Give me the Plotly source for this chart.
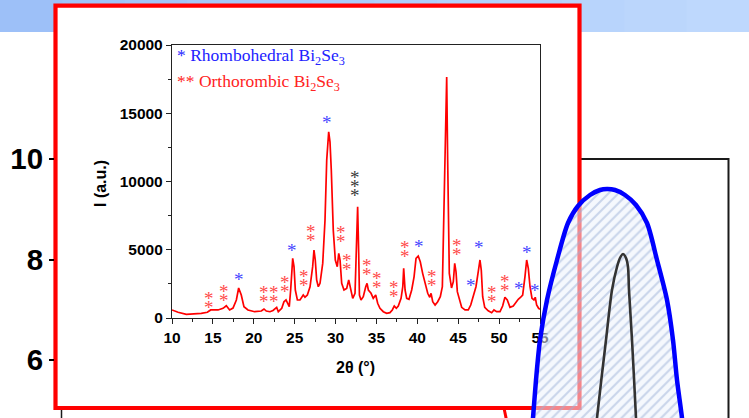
import plotly.graph_objects as go

W, H = 749, 418

# ---------------- inset XRD data (2theta in degrees, intensity in a.u.) -------------
two_theta = [10.00, 10.74, 11.75, 12.77, 13.58, 14.32, 14.73, 15.63, 16.24, 16.64,
             17.05, 17.46, 17.87, 18.15, 18.47, 18.80, 19.29, 20.11, 20.92, 21.25,
             21.53, 21.98, 22.35, 22.80, 23.00, 23.42, 23.69, 23.94, 24.10, 24.34,
             24.51, 24.76, 24.92, 25.08, 25.33, 25.65, 26.05, 26.26, 26.55, 26.88,
             27.20, 27.36, 27.52, 27.69, 27.89, 28.10, 28.43, 28.71, 28.92, 29.16,
             29.32, 29.48, 29.72, 29.97, 30.21, 30.39, 30.55, 30.75, 31.03, 31.36,
             31.61, 31.85, 32.10, 32.38, 32.59, 32.70, 32.83, 32.92, 33.11, 33.39,
             33.69, 33.85, 34.01, 34.34, 34.61, 34.91, 35.15, 35.43, 35.84, 36.25,
             36.65, 36.94, 37.18, 37.43, 37.67, 38.01, 38.22, 38.33, 38.50, 38.70,
             38.98, 39.31, 39.60, 39.84, 40.11, 40.36, 40.65, 40.94, 41.27, 41.52,
             41.68, 41.88, 42.17, 42.49, 42.81, 43.06, 43.30, 43.47, 43.59, 43.71,
             43.91, 44.18, 44.40, 44.57, 44.73, 44.89, 45.14, 45.42, 45.83, 46.23,
             46.53, 46.85, 47.17, 47.45, 47.66, 47.82, 47.99, 48.24, 48.67, 49.09,
             49.37, 49.70, 50.11, 50.43, 50.71, 51.00, 51.33, 51.73, 52.06, 52.34,
             52.64, 52.88, 53.16, 53.37, 53.57, 53.78, 54.02, 54.26, 54.42, 54.59,
             54.83, 55.00]
intensity = [590, 420, 270, 290, 340, 420, 590, 590, 710, 900,
             590, 730, 1320, 2200, 1680, 830, 590, 460, 510, 660,
             510, 460, 550, 780, 460, 710, 1190, 1320, 1080, 830,
             2050, 4370, 3760, 2050, 1320, 1320, 1680, 1520, 1680, 2290,
             3760, 4980, 4250, 2780, 2290, 2540, 4000, 7170, 11570, 13640,
             12910, 10830, 6440, 4250, 3760, 4740, 4250, 2540, 2050, 2170,
             2780, 2170, 1440, 1810, 5220, 8150, 4740, 1680, 1320, 1560,
             2290, 2540, 2050, 1810, 1440, 1680, 1080, 710, 460, 340,
             390, 590, 880, 710, 880, 1440, 2290, 3640, 2050, 1440,
             1370, 2050, 3020, 4370, 4540, 4120, 3270, 2540, 1810, 1520,
             1810, 1190, 950, 1190, 1560, 2290, 9130, 16450, 17660, 11570,
             3270, 2200, 2660, 4000, 3390, 1930, 1320, 780, 590, 590,
             950, 1680, 2290, 3390, 4250, 3510, 1560, 780, 530, 390,
             590, 460, 460, 880, 1520, 1320, 780, 880, 1190, 1370,
             1520, 1680, 3020, 4250, 3640, 2290, 1440, 1320, 1520, 950,
             710, 640]

x_tick_vals = [10, 15, 20, 25, 30, 35, 40, 45, 50, 55]
y_tick_vals = [0, 5000, 10000, 15000, 20000]

# peak markers: position, intensity of lowest asterisk, phase
mark_2theta = [14.56, 16.36, 18.23, 21.29, 22.47, 23.78, 24.67, 26.18, 27.03, 28.99,
               30.63, 31.36, 32.41, 33.81, 35.10, 37.15, 38.49, 40.24, 41.76, 44.81,
               46.52, 47.54, 49.17, 50.72, 52.47, 53.37, 54.39]
mark_I = [1080, 1610, 3150, 1490, 1490, 2220, 5220, 2660, 6000, 14620,
          5910, 3810, 9250, 3460, 2540, 1900, 4810, 5510, 2660, 4980,
          2660, 5470, 1490, 2340, 2420, 5100, 2290]
mark_phase = ["O", "O", "R", "O", "O", "O", "R", "O", "O", "R",
              "O", "O", "X", "O", "O", "O", "O", "R", "O", "O",
              "R", "R", "O", "O", "R", "R", "R"]
phase_count = {"R": 1, "O": 2, "X": 3}
phase_color = {"R": "#4545ff", "O": "#ff4a4a", "X": "#3a3a3a"}

# background (host slide) chart
bg_tick_vals = [6, 8, 10]
bg_range = [4.85, 13.16]
# outline of the hatched blue envelope and inner grey curve (slide pixel coords)
env_x = [531, 533, 536, 540, 547, 557, 568, 578, 590, 600, 607, 615, 625, 636, 647,
         657, 667, 673, 677, 682, 684, 531]
env_y = [440, 418, 380, 340, 300, 260, 223, 206, 195, 190, 189, 190, 195, 205, 223,
         260, 300, 340, 380, 418, 440, 440]
inner_x = [595, 597, 606, 612, 617, 620, 623, 626, 628, 629, 632, 636, 637]
inner_y = [440, 418, 340, 290, 267, 258, 254, 258, 267, 290, 340, 418, 440]


def px(x):
    return x / W


def py(y):
    return 1 - y / H


fig = go.Figure()

fig.add_trace(go.Scatter(x=[0], y=[8], mode="markers", marker=dict(opacity=0),
                         hoverinfo="skip", showlegend=False, xaxis="x", yaxis="y"))

fig.add_trace(go.Scatter(x=two_theta, y=intensity, mode="lines",
                         line=dict(color="#ff0000", width=1.7),
                         showlegend=False, xaxis="x2", yaxis="y2"))

fig.add_trace(go.Scatter(x=env_x, y=env_y, mode="lines", fill="toself",
                         line=dict(color="#0000ff", width=4.5, shape="spline", smoothing=0.8),
                         fillcolor="rgba(0,0,0,0)",
                         fillpattern=dict(shape="/", fgcolor="#9db1d8",
                                          bgcolor="rgba(236,241,250,0.55)",
                                          size=7, solidity=0.3),
                         showlegend=False, xaxis="x3", yaxis="y3"))
fig.add_trace(go.Scatter(x=inner_x, y=inner_y, mode="lines",
                         line=dict(color="#333333", width=2.6, shape="spline", smoothing=0.8),
                         showlegend=False, xaxis="x3", yaxis="y3"))

shapes = []
band_cols = [(157, 192, 248), (160, 195, 248), (163, 197, 249), (166, 200, 249),
             (169, 202, 250), (172, 204, 250), (175, 206, 251), (178, 208, 251),
             (181, 210, 252), (184, 212, 252), (187, 214, 252), (190, 216, 253)]
n = len(band_cols)
for i, c in enumerate(band_cols):
    shapes.append(dict(type="rect", xref="paper", yref="paper", layer="below",
                       x0=i / n, x1=(i + 1) / n + 0.002, y0=py(32), y1=1,
                       line=dict(width=0), fillcolor="rgb(%d,%d,%d)" % c))
shapes.append(dict(type="path", xref="paper", yref="paper", layer="below",
                   path="M %f %f L %f %f L %f %f" % (px(579), py(159), px(728.5), py(159),
                                                    px(728.5), py(430)),
                   line=dict(color="#1a1a1a", width=2)))
shapes.append(dict(type="line", xref="paper", yref="paper", layer="below",
                   x0=px(61.5), x1=px(61.5), y0=py(409), y1=py(430),
                   line=dict(color="#1a1a1a", width=1.5)))
shapes.append(dict(type="rect", xref="paper", yref="paper", layer="below",
                   x0=px(55.5), x1=px(579.5), y0=py(408), y1=py(5.7),
                   line=dict(color="#ff0000", width=4.2), fillcolor="white"))
shapes.append(dict(type="line", xref="paper", yref="paper", layer="below",
                   x0=px(504), x1=px(507.5), y0=py(408), y1=py(425),
                   line=dict(color="#ff0000", width=3)))

annotations = []
annotations.append(dict(text="2θ (°)", x=px(355), y=py(367), xref="paper", yref="paper",
                        xanchor="center", yanchor="middle", showarrow=False,
                        font=dict(family="Arial", size=16, color="black", weight="bold")))
annotations.append(dict(text="I (a.u.)", x=px(100), y=py(184), xref="paper", yref="paper",
                        xanchor="center", yanchor="middle", showarrow=False, textangle=-90,
                        font=dict(family="Arial", size=16, color="black", weight="bold")))
serif = "Times New Roman, Liberation Serif, serif"
annotations.append(dict(text="* Rhombohedral Bi<sub>2</sub>Se<sub>3</sub>",
                        x=px(175), y=py(57), xref="paper", yref="paper",
                        xanchor="left", yanchor="middle", showarrow=False,
                        font=dict(family=serif, size=17.5, color="#2222ff")))
annotations.append(dict(text="** Orthorombic Bi<sub>2</sub>Se<sub>3</sub>",
                        x=px(175), y=py(83), xref="paper", yref="paper",
                        xanchor="left", yanchor="middle", showarrow=False,
                        font=dict(family=serif, size=17.5, color="#ff2222")))
for xm, ym, ph in zip(mark_2theta, mark_I, mark_phase):
    for k in range(phase_count[ph]):
        annotations.append(dict(text="*", x=xm, y=ym, xref="x2", yref="y2",
                                xanchor="center", yanchor="middle",
                                yshift=-4 + 9 * k, showarrow=False,
                                font=dict(family=serif, size=19, color=phase_color[ph])))

fig.update_layout(
    width=W, height=H,
    margin=dict(l=0, r=0, t=0, b=0, pad=0, autoexpand=False),
    paper_bgcolor="white", plot_bgcolor="rgba(0,0,0,0)",
    showlegend=False,
    shapes=shapes, annotations=annotations,
    xaxis=dict(domain=[px(55), 1], range=[0, 1], visible=False, fixedrange=True,
               automargin=False),
    yaxis=dict(domain=[0, 1], range=bg_range, tickvals=bg_tick_vals,
               ticks="outside", ticklen=5, tickwidth=2, tickcolor="black",
               showgrid=False, zeroline=False, showline=False, anchor="x",
               automargin=False,
               tickfont=dict(family="Arial", size=29.5, color="black", weight="bold")),
    xaxis2=dict(domain=[px(172), px(540)], range=[10, 55], anchor="y2",
                tickvals=x_tick_vals, ticks="outside", ticklen=5, tickwidth=1.2,
                tickcolor="#222", minor=dict(dtick=2.5, ticks="outside", ticklen=3,
                                             tickcolor="#222", tickwidth=1),
                showline=True, mirror=True, linecolor="#222", linewidth=1.3,
                showgrid=False, zeroline=False, automargin=False,
                tickfont=dict(family="Arial", size=15.5, color="black", weight="bold")),
    yaxis2=dict(domain=[py(318), py(45)], range=[0, 20000], anchor="x2",
                tickvals=y_tick_vals, tickformat="d", ticks="outside", ticklen=5,
                tickwidth=1.2, tickcolor="#222",
                minor=dict(dtick=2500, ticks="outside", ticklen=3,
                           tickcolor="#222", tickwidth=1),
                showline=True, mirror=True, linecolor="#222", linewidth=1.3,
                showgrid=False, zeroline=False, automargin=False,
                tickfont=dict(family="Arial", size=15.5, color="black", weight="bold")),
    xaxis3=dict(domain=[0, 1], range=[0, W], anchor="y3", visible=False, fixedrange=True,
                automargin=False),
    yaxis3=dict(domain=[0, 1], range=[H, 0], anchor="x3", visible=False, fixedrange=True,
                automargin=False),
)

fig.write_html("out.html")
